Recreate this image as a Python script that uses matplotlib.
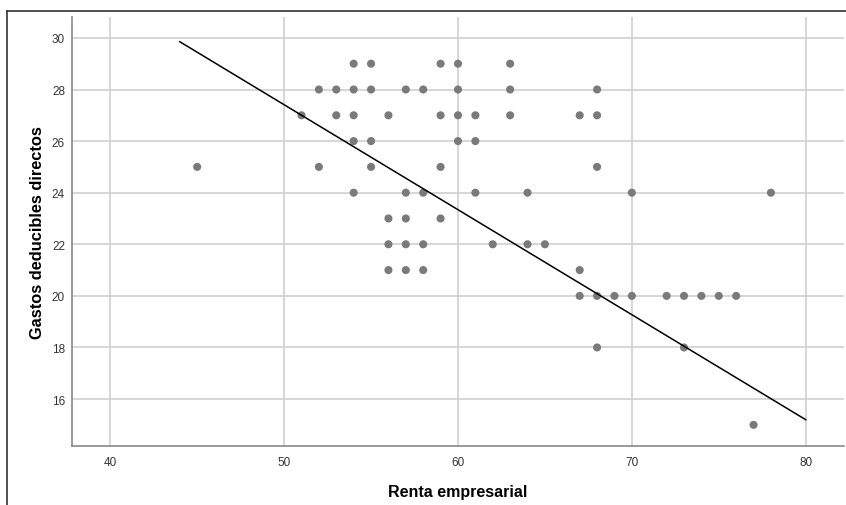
import numpy as np
import matplotlib.pyplot as plt
from matplotlib.lines import Line2D

plt.rcParams['font.family'] = ['Liberation Sans', 'DejaVu Sans']

# Renta empresarial (x) / Gastos deducibles directos (y)
renta = [45, 51, 52, 52, 53, 53, 54, 54, 54, 54, 54, 55, 55, 55, 55,
         56, 56, 56, 56, 57, 57, 57, 57, 57, 58, 58, 58, 58,
         59, 59, 59, 59, 60, 60, 60, 60, 61, 61, 61, 62,
         63, 63, 63, 64, 64, 65, 67, 67, 67, 68, 68, 68, 68, 68,
         69, 70, 70, 72, 73, 73, 74, 75, 76, 77, 78]
gastos = [25, 27, 28, 25, 28, 27, 29, 28, 27, 26, 24, 29, 28, 26, 25,
          27, 23, 22, 21, 28, 24, 23, 22, 21, 28, 24, 22, 21,
          29, 27, 25, 23, 29, 28, 27, 26, 27, 26, 24, 22,
          29, 28, 27, 24, 22, 22, 27, 21, 20, 28, 27, 25, 20, 18,
          20, 24, 20, 20, 20, 18, 20, 20, 20, 15, 24]
# recta de ajuste: gastos = intercepto + pendiente * renta
intercepto = 47.76
pendiente = -0.407
fit_range = [44, 80]
xticks = [40, 50, 60, 70, 80]
yticks = [16, 18, 20, 22, 24, 26, 28, 30]

fig = plt.figure(figsize=(8.46, 5.06), dpi=100)
ax = fig.add_axes([0.0851, 0.1166, 0.9125, 0.8478])

ax.grid(True, color='#d0d0d0', linewidth=1.2, zorder=0)
ax.set_axisbelow(True)

ax.scatter(renta, gastos, s=34, color='#7a7a7a', edgecolors='none', zorder=3)

xs = np.array(fit_range)
ax.plot(xs, intercepto + pendiente * xs, color='black', linewidth=1.1, zorder=4)

ax.set_xlim(37.8, 82.2)
ax.set_ylim(14.18, 30.81)
ax.set_xticks(xticks)
ax.set_yticks(yticks)
ax.tick_params(length=0, labelsize=8.5, labelcolor='#333333')
ax.tick_params(axis='x', pad=7)
ax.tick_params(axis='y', pad=5)

for s in ['top', 'right']:
    ax.spines[s].set_visible(False)
for s in ['left', 'bottom']:
    ax.spines[s].set_color('#888888')
    ax.spines[s].set_linewidth(1.2)

ax.set_xlabel('Renta empresarial', fontsize=11.5, fontweight='bold', labelpad=12)
ax.set_ylabel('Gastos deducibles directos', fontsize=11.8, fontweight='bold', labelpad=5)

# marco exterior
fig.add_artist(Line2D([0.0083, 1.0], [0.976, 0.976], color='#333333', linewidth=1.2))
fig.add_artist(Line2D([0.0083, 0.0083], [0.0, 0.976], color='#333333', linewidth=1.2))

fig.savefig('out.png', dpi=100)
